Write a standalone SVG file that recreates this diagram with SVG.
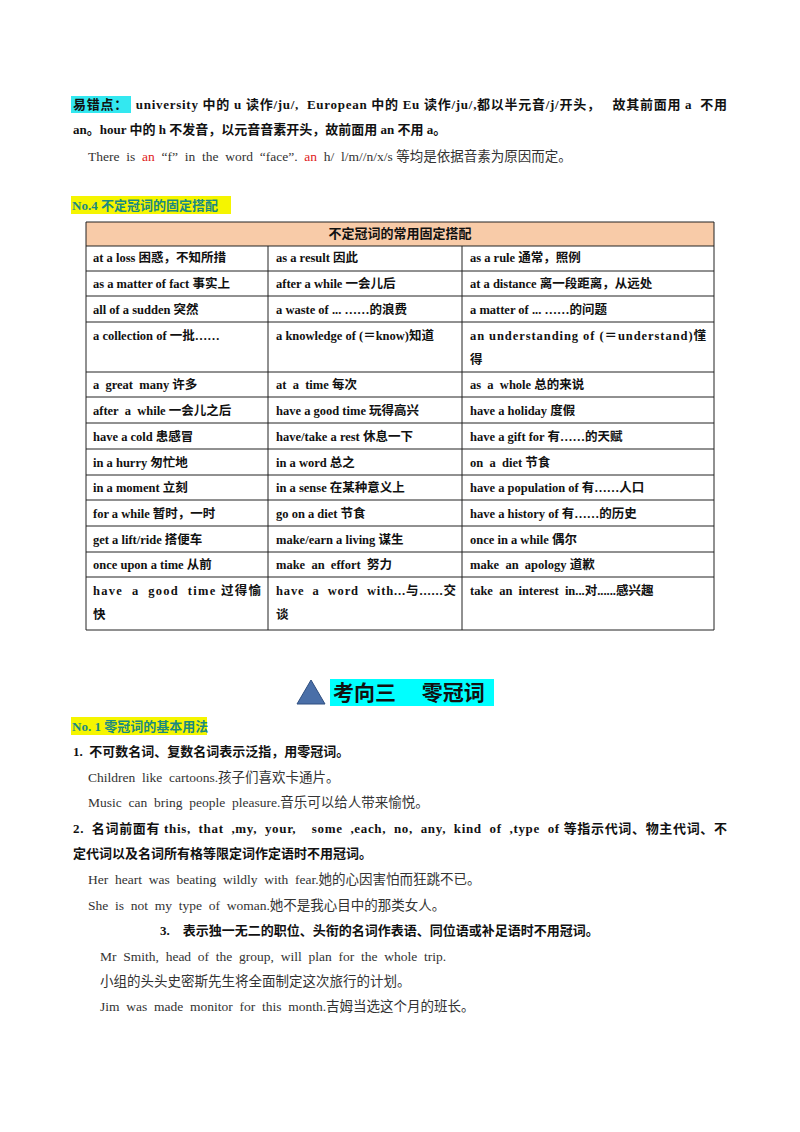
<svg xmlns="http://www.w3.org/2000/svg" width="800" height="1132" viewBox="0 0 800 1132">
<style>
text{font-family:"Liberation Serif","Noto Sans CJK SC",serif;font-size:13px;fill:#111;white-space:pre}
.b{font-weight:bold}
.t{font-weight:bold;font-size:12.5px}
.g{fill:#333;font-size:13.5px}
.r{fill:#e02020}
.h{font-weight:bold;fill:#1a8a80;font-size:13px}
line{stroke:#222;stroke-width:1}
</style>
<rect width="800" height="1132" fill="#fff"/>
<g id="intro">
<rect x="71" y="96" width="60" height="17" fill="#33e8f0"/>
<text x="73" y="109" class="b" textLength="654" lengthAdjust="spacing">易错点：  university 中的 u 读作/ju/,  European 中的 Eu 读作/ju/,都以半元音/j/开头，   故其前面用 a  不用</text>
<text x="73" y="134" class="b">an。hour 中的 h 不发音，以元音音素开头，故前面用 an 不用 a。</text>
<text x="88" y="161" class="g">There  is  <tspan class="r">an</tspan>  “f”  in  the  word  “face”.  <tspan class="r">an</tspan>  h/  l/m//n/x/s 等均是依据音素为原因而定。</text>
<rect x="71" y="196" width="160" height="18" fill="#f5f500"/>
<text x="72" y="210" class="h">No.4 不定冠词的固定搭配</text>
</g>
<g id="table">
<rect x="86" y="222" width="628" height="24" fill="#f8cba8"/>
<text x="400" y="238" class="b" text-anchor="middle">不定冠词的常用固定搭配</text>
<g>
<line x1="86" y1="222" x2="714" y2="222"/><line x1="86" y1="246" x2="714" y2="246"/>
<line x1="86" y1="271" x2="714" y2="271"/><line x1="86" y1="296" x2="714" y2="296"/>
<line x1="86" y1="322" x2="714" y2="322"/><line x1="86" y1="372" x2="714" y2="372"/>
<line x1="86" y1="397" x2="714" y2="397"/><line x1="86" y1="423" x2="714" y2="423"/>
<line x1="86" y1="449" x2="714" y2="449"/><line x1="86" y1="475" x2="714" y2="475"/>
<line x1="86" y1="500" x2="714" y2="500"/><line x1="86" y1="526" x2="714" y2="526"/>
<line x1="86" y1="552" x2="714" y2="552"/><line x1="86" y1="577" x2="714" y2="577"/>
<line x1="86" y1="630" x2="714" y2="630"/>
<line x1="86" y1="222" x2="86" y2="630"/><line x1="714" y1="222" x2="714" y2="630"/>
<line x1="268" y1="246" x2="268" y2="630"/><line x1="462" y1="246" x2="462" y2="630"/>
</g>
<g>
<text x="93" y="262" class="t">at a loss 困惑，不知所措</text><text x="276" y="262" class="t">as a result 因此</text><text x="470" y="262" class="t">as a rule 通常，照例</text>
<text x="93" y="288" class="t">as a matter of fact 事实上</text><text x="276" y="288" class="t">after a while 一会儿后</text><text x="470" y="288" class="t">at a distance 离一段距离，从远处</text>
<text x="93" y="314" class="t">all of a sudden 突然</text><text x="276" y="314" class="t">a waste of ... ……的浪费</text><text x="470" y="314" class="t">a matter of ... ……的问题</text>
<text x="93" y="340" class="t">a collection of 一批……</text><text x="276" y="340" class="t">a knowledge of (＝know)知道</text><text x="470" y="340" class="t" textLength="236" lengthAdjust="spacing">an understanding of (＝understand)懂</text><text x="470" y="364" class="t">得</text>
<text x="93" y="389" class="t">a  great  many 许多</text><text x="276" y="389" class="t">at  a  time 每次</text><text x="470" y="389" class="t">as  a  whole 总的来说</text>
<text x="93" y="415" class="t">after  a  while 一会儿之后</text><text x="276" y="415" class="t">have a good time 玩得高兴</text><text x="470" y="415" class="t">have a holiday 度假</text>
<text x="93" y="441" class="t">have a cold 患感冒</text><text x="276" y="441" class="t">have/take a rest 休息一下</text><text x="470" y="441" class="t">have a gift for 有……的天赋</text>
<text x="93" y="467" class="t">in a hurry 匆忙地</text><text x="276" y="467" class="t">in a word 总之</text><text x="470" y="467" class="t">on  a  diet 节食</text>
<text x="93" y="492" class="t">in a moment 立刻</text><text x="276" y="492" class="t">in a sense 在某种意义上</text><text x="470" y="492" class="t">have a population of 有……人口</text>
<text x="93" y="518" class="t">for a while 暂时，一时</text><text x="276" y="518" class="t">go on a diet 节食</text><text x="470" y="518" class="t">have a history of 有……的历史</text>
<text x="93" y="544" class="t">get a lift/ride 搭便车</text><text x="276" y="544" class="t">make/earn a living 谋生</text><text x="470" y="544" class="t">once in a while 偶尔</text>
<text x="93" y="569" class="t">once upon a time 从前</text><text x="276" y="569" class="t">make  an  effort  努力</text><text x="470" y="569" class="t">make  an  apology 道歉</text>
<text x="93" y="595" class="t" textLength="168" lengthAdjust="spacing">have  a  good  time 过得愉</text><text x="276" y="595" class="t" textLength="180" lengthAdjust="spacing">have  a  word  with...与......交</text><text x="470" y="595" class="t">take  an  interest  in...对......感兴趣</text>
<text x="93" y="619" class="t">快</text><text x="276" y="619" class="t">谈</text>
</g>
</g>
<g id="heading">
<polygon points="311,680 297,704 325,704" fill="#4a6fa8" stroke="#2f4f80" stroke-width="1"/>
<rect x="330" y="679" width="164" height="27" fill="#00ffff"/>
<text x="333" y="700" style="font-size:21px;font-weight:bold;font-family:'Noto Sans CJK SC',sans-serif">考向三　 零冠词</text>
</g>
<g id="body">
<rect x="71" y="717" width="136" height="18" fill="#f5f500"/>
<text x="72" y="731" class="h">No. 1 零冠词的基本用法</text>
<text x="73" y="756" class="b">1.  不可数名词、复数名词表示泛指，用零冠词。</text>
<text x="88" y="782" class="g">Children  like  cartoons.孩子们喜欢卡通片。</text>
<text x="88" y="807" class="g">Music  can  bring  people  pleasure.音乐可以给人带来愉悦。</text>
<text x="73" y="833" class="b" textLength="654" lengthAdjust="spacing">2.  名词前面有 this,  that  ,my,  your,    some  ,each,  no,  any,  kind  of  ,type  of 等指示代词、物主代词、不</text>
<text x="73" y="858" class="b">定代词以及名词所有格等限定词作定语时不用冠词。</text>
<text x="88" y="884" class="g">Her  heart  was  beating  wildly  with  fear.她的心因害怕而狂跳不已。</text>
<text x="88" y="910" class="g">She  is  not  my  type  of  woman.她不是我心目中的那类女人。</text>
<text x="160" y="935" class="b">3.    表示独一无二的职位、头衔的名词作表语、同位语或补足语时不用冠词。</text>
<text x="100" y="961" class="g">Mr  Smith,  head  of  the  group,  will  plan  for  the  whole  trip.</text>
<text x="100" y="986" class="g">小组的头头史密斯先生将全面制定这次旅行的计划。</text>
<text x="100" y="1011" class="g">Jim  was  made  monitor  for  this  month.吉姆当选这个月的班长。</text>
</g>
</svg>
